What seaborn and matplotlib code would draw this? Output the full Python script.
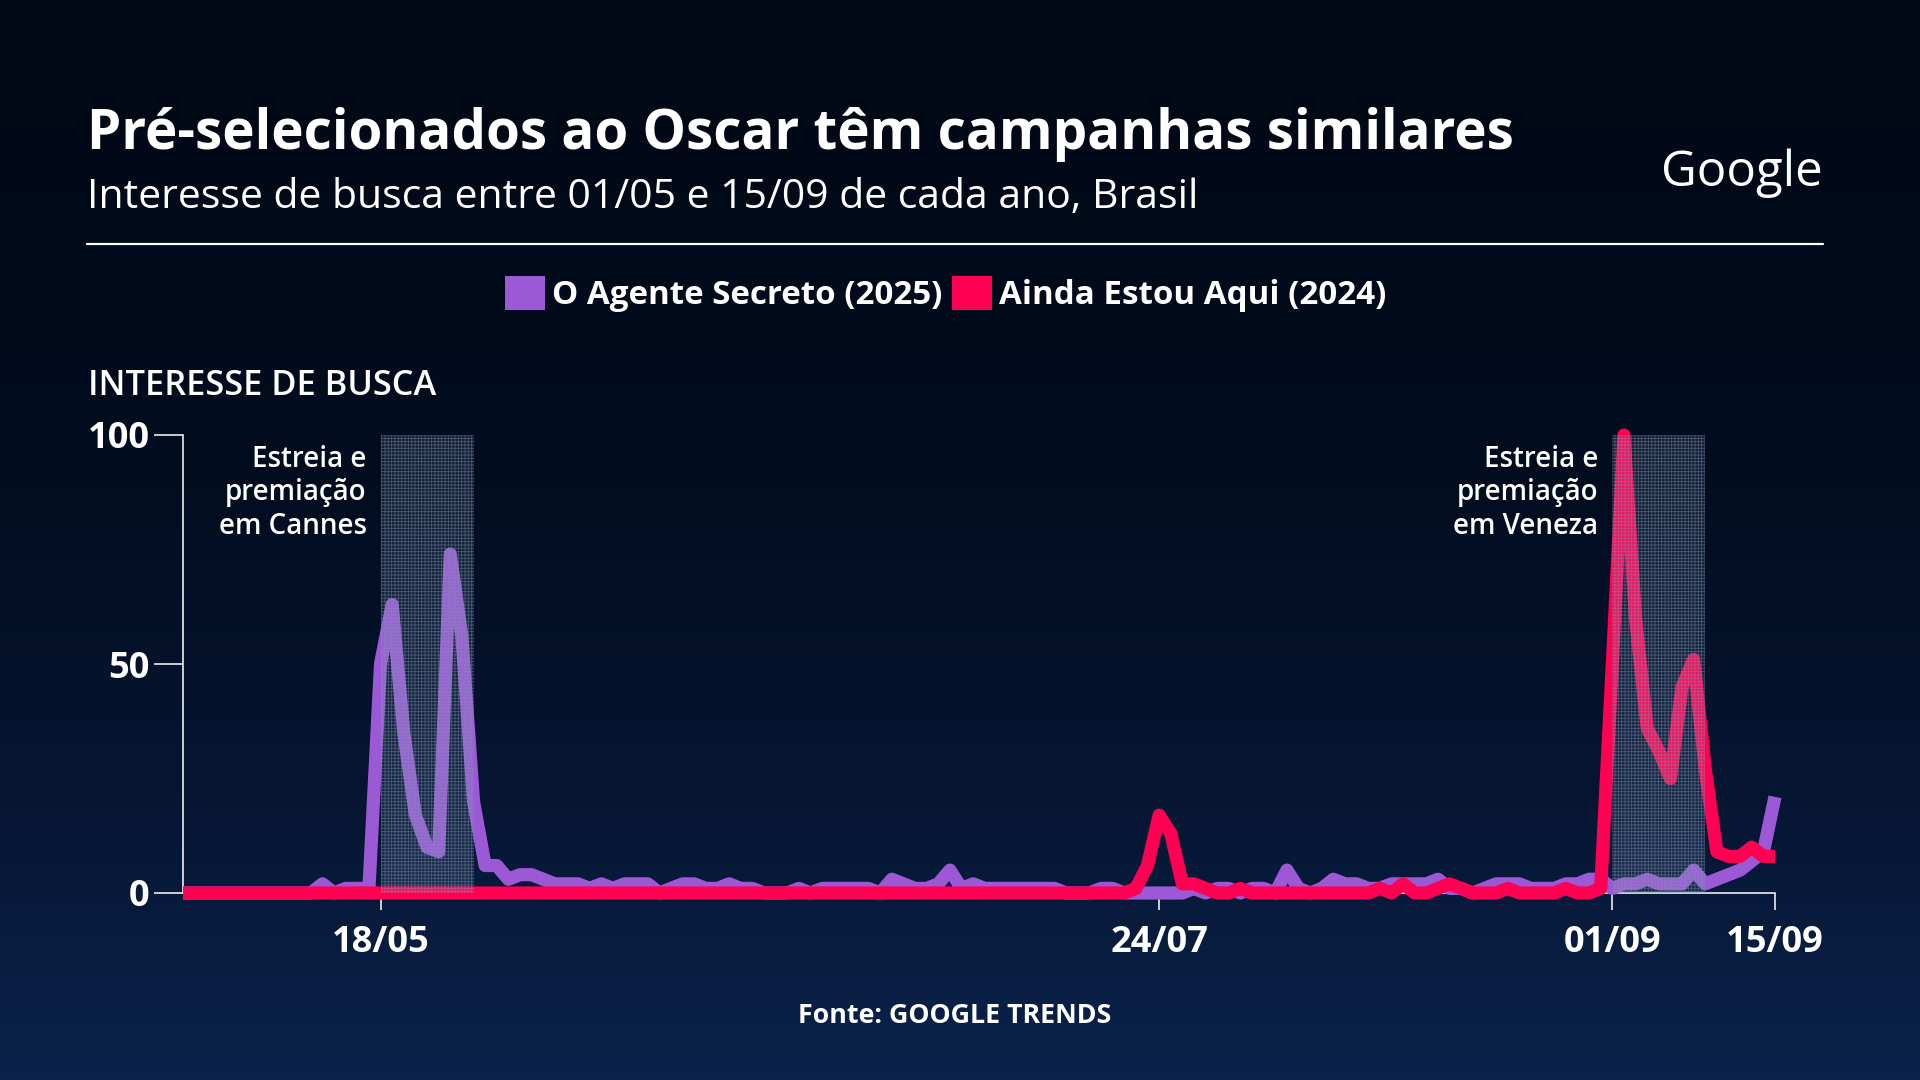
import matplotlib.pyplot as plt
import numpy as np
import pandas as pd
import seaborn as sns
from matplotlib.colors import LinearSegmentedColormap
from matplotlib.patches import Patch

# daily search interest, day 0 = 01/05 ... day 137 = 15/09
days = list(range(138))
agente_secreto = [
    0, 0, 0, 0, 0, 0, 0, 0, 0, 0, 0, 0, 2, 0, 1, 1, 1, 50, 63, 35,
    17, 10, 9, 74, 56, 20, 6, 6, 3, 4, 4, 3, 2, 2, 2, 1, 2, 1, 2, 2,
    2, 0, 1, 2, 2, 1, 1, 2, 1, 1, 0, 0, 0, 1, 0, 1, 1, 1, 1, 1,
    0, 3, 2, 1, 1, 2, 5, 1, 2, 1, 1, 1, 1, 1, 1, 1, 0, 0, 0, 1,
    1, 0, 0, 0, 0, 0, 0, 1, 0, 1, 1, 0, 1, 1, 0, 5, 1, 0, 1, 3,
    2, 2, 1, 1, 2, 2, 2, 2, 3, 1, 1, 0, 1, 2, 2, 2, 1, 1, 1, 2,
    2, 3, 3, 1, 2, 2, 3, 2, 2, 2, 5, 2, 3, 4, 5, 7, 9, 21,
]
ainda_estou_aqui = [
    0, 0, 0, 0, 0, 0, 0, 0, 0, 0, 0, 0, 0, 0, 0, 0, 0, 0, 0, 0,
    0, 0, 0, 0, 0, 0, 0, 0, 0, 0, 0, 0, 0, 0, 0, 0, 0, 0, 0, 0,
    0, 0, 0, 0, 0, 0, 0, 0, 0, 0, 0, 0, 0, 0, 0, 0, 0, 0, 0, 0,
    0, 0, 0, 0, 0, 0, 0, 0, 0, 0, 0, 0, 0, 0, 0, 0, 0, 0, 0, 0,
    0, 0, 1, 6, 17, 13, 2, 2, 1, 0, 0, 1, 0, 0, 0, 0, 0, 0, 0, 0,
    0, 0, 0, 1, 0, 2, 0, 0, 1, 2, 1, 0, 0, 0, 1, 0, 0, 0, 0, 1,
    0, 0, 1, 50, 100, 60, 36, 31, 25, 45, 51, 27, 9, 8, 8, 10, 8, 8,
]
series_names = ["O Agente Secreto (2025)", "Ainda Estou Aqui (2024)"]
series_colors = ["#9b59d6", "#ff0052"]
tick_days = [17, 84, 123, 137]
tick_labels = ["18/05", "24/07", "01/09", "15/09"]
y_ticks = [0, 50, 100]
highlight_spans = [(17, 25), (123, 131)]
highlight_notes = ["Estreia e\npremiação\nem Cannes", "Estreia e\npremiação\nem Veneza"]

df = pd.DataFrame({
    "dia": days * 2,
    "interesse": agente_secreto + ainda_estou_aqui,
    "filme": [series_names[0]] * len(days) + [series_names[1]] * len(days),
})

sns.set_theme(style="ticks")
FONT = ["Open Sans", "DejaVu Sans"]
plt.rcParams["font.family"] = FONT
plt.rcParams["hatch.linewidth"] = 0.6

W, H = 1920, 1080
fig = plt.figure(figsize=(W / 100, H / 100), dpi=100)
renderer = fig.canvas.get_renderer()


def fx(px):
    return px / W


def fy(py):
    return 1 - py / H


def fit_size(text, target_px, **kw):
    """Font size (pt) that makes `text` about target_px wide."""
    probe = fig.text(0, 0, text, fontsize=20, **kw)
    width = probe.get_window_extent(renderer).width
    probe.remove()
    return 20 * target_px / width


# background gradient
bg = fig.add_axes([0, 0, 1, 1], zorder=-10)
cmap = LinearSegmentedColormap.from_list(
    "bg", [(0, "#010815"), (0.45, "#020d20"), (0.75, "#061633"), (1, "#0b234b")]
)
bg.imshow(np.linspace(0, 1, 256).reshape(-1, 1), aspect="auto", cmap=cmap,
          extent=[0, 1, 0, 1])
bg.set_axis_off()

ax = fig.add_axes([fx(183), fy(893), fx(1775 - 183), (893 - 435) / H])
ax.set_facecolor("none")

sns.lineplot(
    data=df, x="dia", y="interesse", hue="filme", hue_order=series_names,
    palette=series_colors, linewidth=9.5, legend=False, ax=ax,
    clip_on=False, zorder=3, solid_capstyle="butt", solid_joinstyle="round",
)

note_size = fit_size("em Cannes", 148, fontweight="semibold")
for (start, end), note in zip(highlight_spans, highlight_notes):
    ax.axvspan(start, end, ymin=0, ymax=1, facecolor=(0.55, 0.65, 0.8, 0.12),
               edgecolor=(0.5, 0.57, 0.67, 0.5), hatch="+++++", linewidth=0,
               zorder=4)
    ax.text(start - 1.2, 97.8, note, ha="right", va="top", color="white",
            fontsize=note_size, fontweight="semibold", linespacing=1.2)

ax.set_xlim(0, 137)
ax.set_ylim(0, 100)
ax.set_xticks(tick_days)
ax.set_xticklabels(tick_labels)
ax.set_yticks(y_ticks)
ax.set_xlabel("")
ax.set_ylabel("")
for side in ["top", "right"]:
    ax.spines[side].set_visible(False)
for side in ["left", "bottom"]:
    ax.spines[side].set_color("white")
    ax.spines[side].set_linewidth(1.1)
tick_size = fit_size("15/09", 98, fontweight="bold")
ax.tick_params(axis="y", colors="white", length=21, width=1.1, pad=3,
               labelsize=tick_size)
ax.tick_params(axis="x", colors="white", length=12, width=1.1, pad=11,
               labelsize=tick_size)
for lab in ax.get_xticklabels() + ax.get_yticklabels():
    lab.set_fontweight("bold")

# header
title = "Pré-selecionados ao Oscar têm campanhas similares"
fig.text(fx(87), fy(149), title, color="white",
         fontsize=fit_size(title, 1426, fontweight="bold"),
         fontweight="bold", va="baseline")
subtitle = "Interesse de busca entre 01/05 e 15/09 de cada ano, Brasil"
fig.text(fx(87), fy(208), subtitle, color="white",
         fontsize=fit_size(subtitle, 1107), va="baseline")
fig.text(fx(1823), fy(186), "Google", color="white",
         fontsize=fit_size("Google", 161), ha="right", va="baseline")
fig.add_artist(plt.Line2D([fx(87), fx(1823)], [fy(244), fy(244)],
                          color="white", linewidth=1.6))

legend_size = fit_size(series_names[0], 391, fontweight="bold")
handles = [Patch(facecolor=c, edgecolor="none") for c in series_colors]
fig.legend(handles, series_names, loc="center", bbox_to_anchor=(fx(946), fy(294)),
           ncol=2, frameon=False, handlelength=1.2, handleheight=1.2,
           handletextpad=0.22, columnspacing=0.28,
           prop={"size": legend_size, "weight": "bold"}, labelcolor="white")

label = "INTERESSE DE BUSCA"
fig.text(fx(88), fy(395), label, color="white",
         fontsize=fit_size(label, 349, fontweight="semibold"),
         fontweight="semibold", va="baseline")
source = "Fonte: GOOGLE TRENDS"
fig.text(fx(955), fy(1023), source, color="white",
         fontsize=fit_size(source, 314, fontweight="bold"),
         fontweight="bold", ha="center", va="baseline")

fig.savefig("out.png", dpi=100)
